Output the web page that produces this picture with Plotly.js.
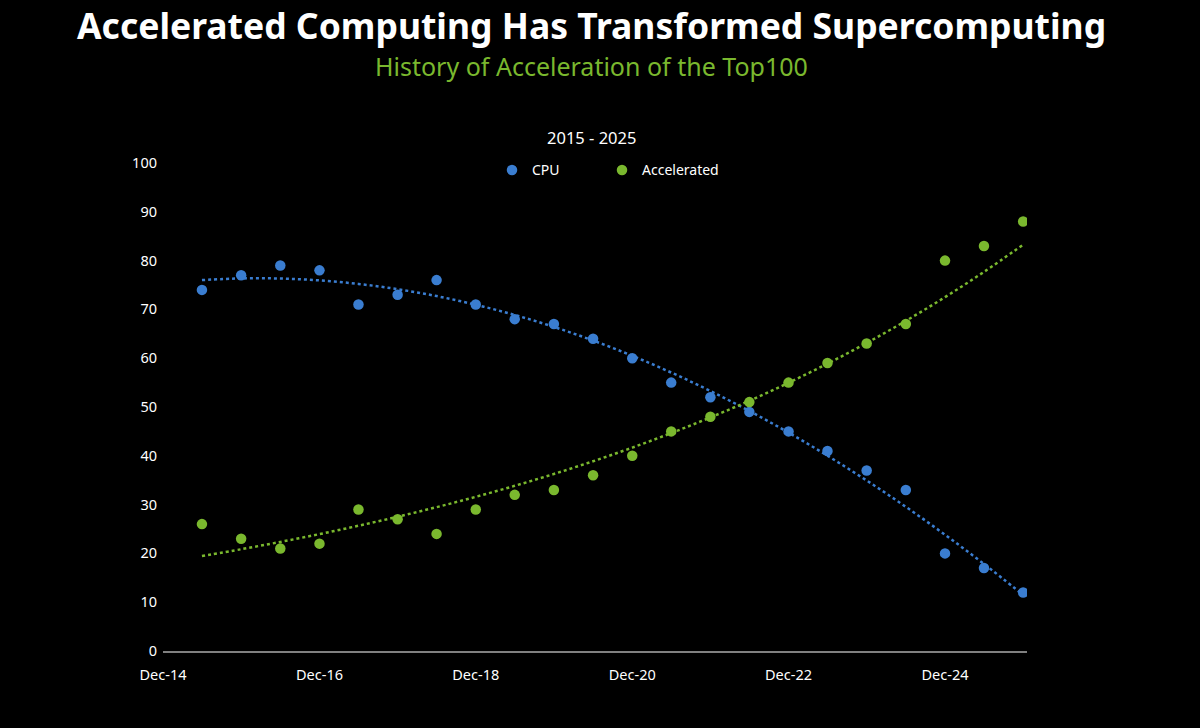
<!DOCTYPE html>
<html>
<head>
<meta charset="utf-8">
<script src="https://cdn.plot.ly/plotly-3.0.1.min.js"></script>
<style>html,body{margin:0;padding:0;background:#000;}#chart{width:1200px;height:728px;}</style>
</head>
<body>
<div id="chart"></div>
<script>
// Survey dates (June / December lists)
const dates = ['2015-06-01','2015-12-01','2016-06-01','2016-12-01','2017-06-01','2017-12-01',
  '2018-06-01','2018-12-01','2019-06-01','2019-12-01','2020-06-01','2020-12-01',
  '2021-06-01','2021-12-01','2022-06-01','2022-12-01','2023-06-01','2023-12-01',
  '2024-06-01','2024-12-01','2025-06-01','2025-12-01'];
const cpu = [74,77,79,78,71,73,76,71,68,67,64,60,55,52,49,45,41,37,33,20,17,12];
const accelerated = [26,23,21,22,29,27,24,29,32,33,36,40,45,48,51,55,59,63,67,80,83,88];
const xTicks = ['2014-12-01','2016-12-01','2018-12-01','2020-12-01','2022-12-01','2024-12-01'];
const xTickText = ['Dec-14','Dec-16','Dec-18','Dec-20','Dec-22','Dec-24'];

const blue = '#3a7dd0';
const green = '#7ab82e';

// Trendlines fitted from data (polynomial order 3 for CPU, exponential for Accelerated)
const t = dates.map(d => (new Date(d).getTime() - new Date(dates[0]).getTime()) / (365.25*864e5));
function polyfit(xs, ys, order) {
  const n = order + 1;
  const A = Array.from({length:n}, () => new Array(n+1).fill(0));
  for (let i = 0; i < xs.length; i++) {
    for (let r = 0; r < n; r++) {
      for (let c = 0; c < n; c++) A[r][c] += Math.pow(xs[i], r + c);
      A[r][n] += ys[i] * Math.pow(xs[i], r);
    }
  }
  for (let i = 0; i < n; i++) {
    let p = i;
    for (let k = i+1; k < n; k++) if (Math.abs(A[k][i]) > Math.abs(A[p][i])) p = k;
    [A[i], A[p]] = [A[p], A[i]];
    for (let k = i+1; k < n; k++) {
      const f = A[k][i] / A[i][i];
      for (let c = i; c <= n; c++) A[k][c] -= f * A[i][c];
    }
  }
  const coef = new Array(n).fill(0);
  for (let i = n-1; i >= 0; i--) {
    let s = A[i][n];
    for (let c = i+1; c < n; c++) s -= A[i][c] * coef[c];
    coef[i] = s / A[i][i];
  }
  return coef;
}
const cpuCoef = polyfit(t, cpu, 3);
const accCoef = polyfit(t, accelerated.map(v => Math.log(v)), 1);
const cpuTrend = t.map(x => cpuCoef.reduce((s, c, i) => s + c * Math.pow(x, i), 0));
const accTrend = t.map(x => Math.exp(accCoef[0] + accCoef[1] * x));

const traces = [
  {x: dates, y: cpuTrend, mode: 'lines', line: {color: blue, width: 2.5, dash: 'dot', shape: 'spline'}, showlegend: false, hoverinfo: 'skip'},
  {x: dates, y: accTrend, mode: 'lines', line: {color: green, width: 2.5, dash: 'dot', shape: 'spline'}, showlegend: false, hoverinfo: 'skip'},
  {x: dates, y: cpu, name: 'CPU', mode: 'markers', marker: {color: blue, size: 10.5}, legend: 'legend'},
  {x: dates, y: accelerated, name: 'Accelerated', mode: 'markers', marker: {color: green, size: 10.5}, legend: 'legend2'}
];

const font = "'Noto Sans', 'DejaVu Sans', sans-serif";
const legendBase = {orientation: 'h', xanchor: 'left', y: 0.985, yanchor: 'middle',
  font: {size: 14, color: '#ffffff'}, bgcolor: 'rgba(0,0,0,0)', itemwidth: 30};
const layout = {
  width: 1200, height: 728,
  paper_bgcolor: '#000', plot_bgcolor: '#000',
  margin: {l: 163, r: 173, t: 163, b: 77},
  font: {family: font, color: '#ffffff', size: 14},
  showlegend: true,
  legend: Object.assign({}, legendBase, {x: (502 - 163 - 10) / 864}),
  legend2: Object.assign({}, legendBase, {x: (612 - 163 - 10) / 864}),
  xaxis: {type: 'date', range: ['2014-12-01', '2025-12-19'], tickmode: 'array', tickvals: xTicks, ticktext: xTickText,
    showgrid: false, zeroline: false, showline: true, linecolor: '#808080', linewidth: 2, ticks: '',
    tickfont: {size: 14.5, color: '#ffffff'}, ticklabelstandoff: 10, fixedrange: true},
  yaxis: {range: [0, 100], dtick: 10, showgrid: false, zeroline: false, showline: false, ticks: '',
    tickfont: {size: 14.5, color: '#ffffff'}, ticklabelstandoff: 5, fixedrange: true},
  annotations: [
    {text: '<b>Accelerated Computing Has Transformed Supercomputing</b>', xref: 'paper', yref: 'paper',
      x: 0.496, y: 1 + (163 - 25) / 488, xanchor: 'center', yanchor: 'middle', showarrow: false,
      font: {family: font, size: 35.5, color: '#ffffff'}},
    {text: 'History of Acceleration of the Top100', xref: 'paper', yref: 'paper',
      x: 0.496, y: 1 + (163 - 66) / 488, xanchor: 'center', yanchor: 'middle', showarrow: false,
      font: {family: font, size: 25, color: green}},
    {text: '2015 - 2025', xref: 'paper', yref: 'paper',
      x: (591 - 163) / 864, y: 1 + (163 - 137) / 488, xanchor: 'center', yanchor: 'middle', showarrow: false,
      font: {family: font, size: 16.5, color: '#ffffff'}}
  ]
};

Plotly.newPlot('chart', traces, layout, {displayModeBar: false, staticPlot: true});
</script>
</body>
</html>
